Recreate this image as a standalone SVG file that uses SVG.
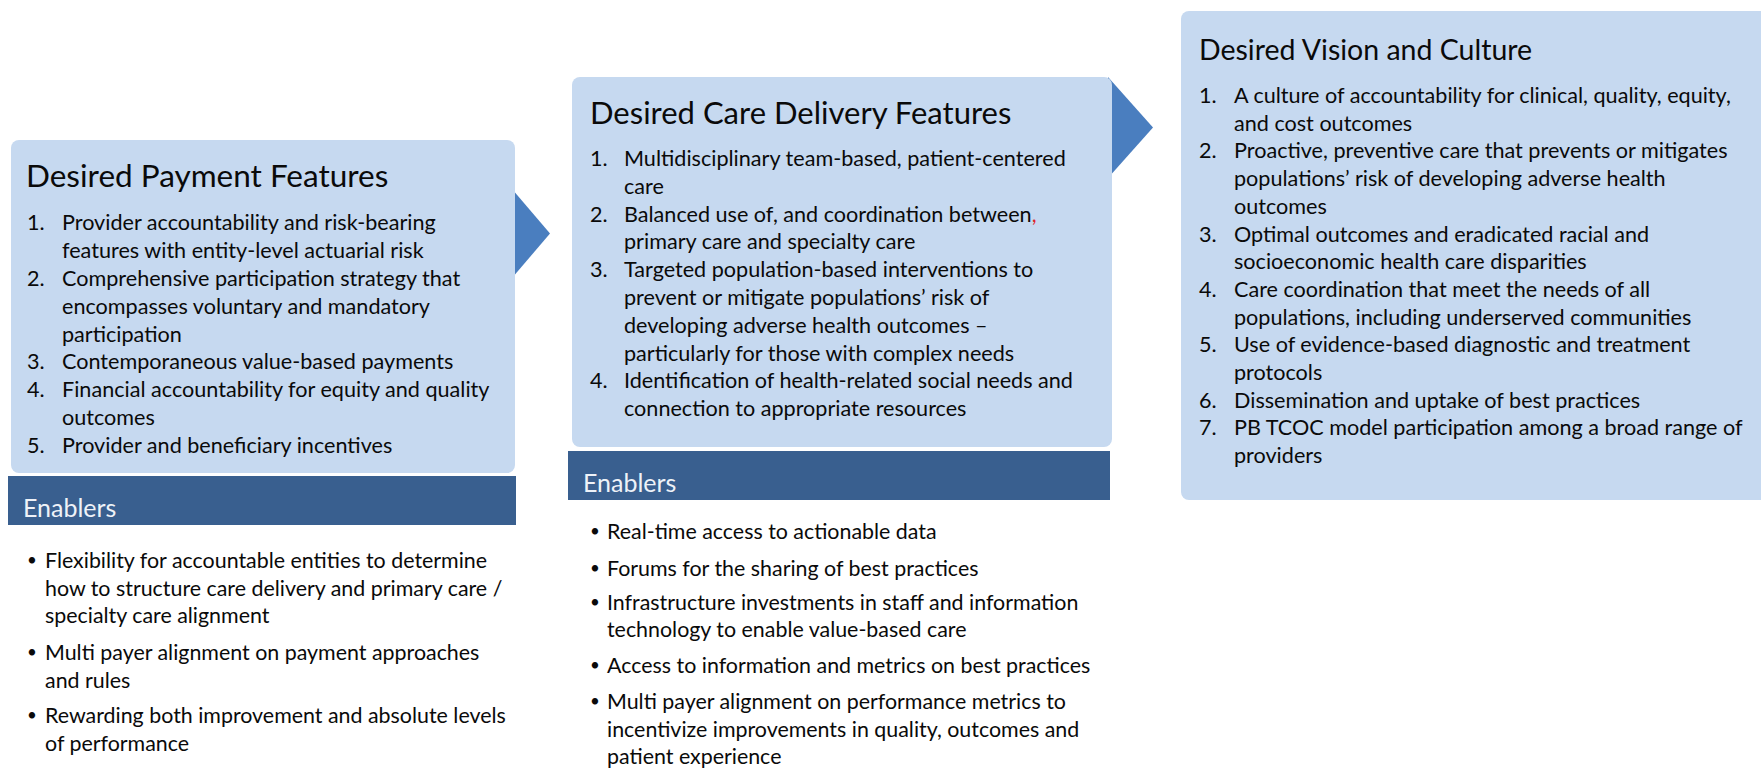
<svg xmlns="http://www.w3.org/2000/svg" width="1761" height="768" viewBox="0 0 1761 768">
<style>
.box{fill:#C6D9F0;}
.bar{fill:#395F8F;}
.arrow{fill:#4A7EBF;}
text{font-family:Lato,"Liberation Sans",sans-serif;fill:#0A0A0A;}
.title{font-size:31.5px;}
.body{font-size:21.6px;}
.enl{font-size:21.4px;}
.bul{font-size:17px;}
.enh{font-size:25px;fill:#EEF2F8;}
.red{fill:#E0242A;}
</style>
<rect width="1761" height="768" fill="#FFFFFF"/>
<g id="connectors">
<polygon class="arrow" points="512,189 550,233.5 512,278"/>
<polygon class="arrow" points="1108,77 1153,127.5 1108,178"/>
</g>
<g id="payment">
<rect class="box" x="11" y="140" width="504" height="333" rx="8"/>
<text class="title" x="26" y="187">Desired Payment Features</text>
<g class="body">
<text x="27" y="230">1.</text><text x="62" y="230">Provider accountability and risk-bearing</text>
<text x="62" y="258">features with entity-level actuarial risk</text>
<text x="27" y="286">2.</text><text x="62" y="286">Comprehensive participation strategy that</text>
<text x="62" y="314">encompasses voluntary and mandatory</text>
<text x="62" y="342">participation</text>
<text x="27" y="369">3.</text><text x="62" y="369">Contemporaneous value-based payments</text>
<text x="27" y="397">4.</text><text x="62" y="397">Financial accountability for equity and quality</text>
<text x="62" y="425">outcomes</text>
<text x="27" y="453">5.</text><text x="62" y="453">Provider and beneficiary incentives</text>
</g>
</g>
<g id="payment-enablers">
<rect class="bar" x="8" y="476" width="508" height="49"/>
<text class="enh" x="23" y="517">Enablers</text>
<g class="bul">
<text x="27" y="566">•</text>
<text x="27" y="658">•</text>
<text x="27" y="721">•</text>
</g>
<g class="enl">
<text x="45" y="568">Flexibility for accountable entities to determine</text>
<text x="45" y="595.5">how to structure care delivery and primary care /</text>
<text x="45" y="623">specialty care alignment</text>
<text x="45" y="660">Multi payer alignment on payment approaches</text>
<text x="45" y="687.5">and rules</text>
<text x="45" y="723">Rewarding both improvement and absolute levels</text>
<text x="45" y="750.5">of performance</text>
</g>
</g>
<g id="care-delivery">
<rect class="box" x="572" y="77" width="540" height="370" rx="8"/>
<text class="title" x="590" y="124" style="font-size:31px">Desired Care Delivery Features</text>
<g class="body">
<text x="590" y="166">1.</text><text x="624" y="166">Multidisciplinary team-based, patient-centered</text>
<text x="624" y="193.8">care</text>
<text x="590" y="221.6">2.</text><text x="624" y="221.6">Balanced use of, and coordination between<tspan class="red">,</tspan></text>
<text x="624" y="249.4">primary care and specialty care</text>
<text x="590" y="277.2">3.</text><text x="624" y="277.2">Targeted population-based interventions to</text>
<text x="624" y="305">prevent or mitigate populations’ risk of</text>
<text x="624" y="332.8">developing adverse health outcomes –</text>
<text x="624" y="360.6">particularly for those with complex needs</text>
<text x="590" y="388.4">4.</text><text x="624" y="388.4">Identification of health-related social needs and</text>
<text x="624" y="416.2">connection to appropriate resources</text>
</g>
</g>
<g id="care-enablers">
<rect class="bar" x="568" y="451" width="542" height="49"/>
<text class="enh" x="583" y="492">Enablers</text>
<g class="bul">
<text x="590" y="537">•</text>
<text x="590" y="574">•</text>
<text x="590" y="608">•</text>
<text x="590" y="671">•</text>
<text x="590" y="707">•</text>
</g>
<g class="enl">
<text x="607" y="539">Real-time access to actionable data</text>
<text x="607" y="576">Forums for the sharing of best practices</text>
<text x="607" y="610">Infrastructure investments in staff and information</text>
<text x="607" y="637">technology to enable value-based care</text>
<text x="607" y="673">Access to information and metrics on best practices</text>
<text x="607" y="709">Multi payer alignment on performance metrics to</text>
<text x="607" y="737">incentivize improvements in quality, outcomes and</text>
<text x="607" y="764">patient experience</text>
</g>
</g>
<g id="vision">
<rect class="box" x="1181" y="11" width="600" height="489" rx="8"/>
<text class="title" x="1199" y="60" style="font-size:28.5px">Desired Vision and Culture</text>
<g class="body">
<text x="1199" y="103">1.</text><text x="1234" y="103">A culture of accountability for clinical, quality, equity,</text>
<text x="1234" y="130.7">and cost outcomes</text>
<text x="1199" y="158.4">2.</text><text x="1234" y="158.4">Proactive, preventive care that prevents or mitigates</text>
<text x="1234" y="186.1">populations’ risk of developing adverse health</text>
<text x="1234" y="213.8">outcomes</text>
<text x="1199" y="241.5">3.</text><text x="1234" y="241.5">Optimal outcomes and eradicated racial and</text>
<text x="1234" y="269.2">socioeconomic health care disparities</text>
<text x="1199" y="296.9">4.</text><text x="1234" y="296.9">Care coordination that meet the needs of all</text>
<text x="1234" y="324.6">populations, including underserved communities</text>
<text x="1199" y="352.3">5.</text><text x="1234" y="352.3">Use of evidence-based diagnostic and treatment</text>
<text x="1234" y="380">protocols</text>
<text x="1199" y="407.7">6.</text><text x="1234" y="407.7">Dissemination and uptake of best practices</text>
<text x="1199" y="435.4">7.</text><text x="1234" y="435.4">PB TCOC model participation among a broad range of</text>
<text x="1234" y="463.1">providers</text>
</g>
</g>
</svg>
